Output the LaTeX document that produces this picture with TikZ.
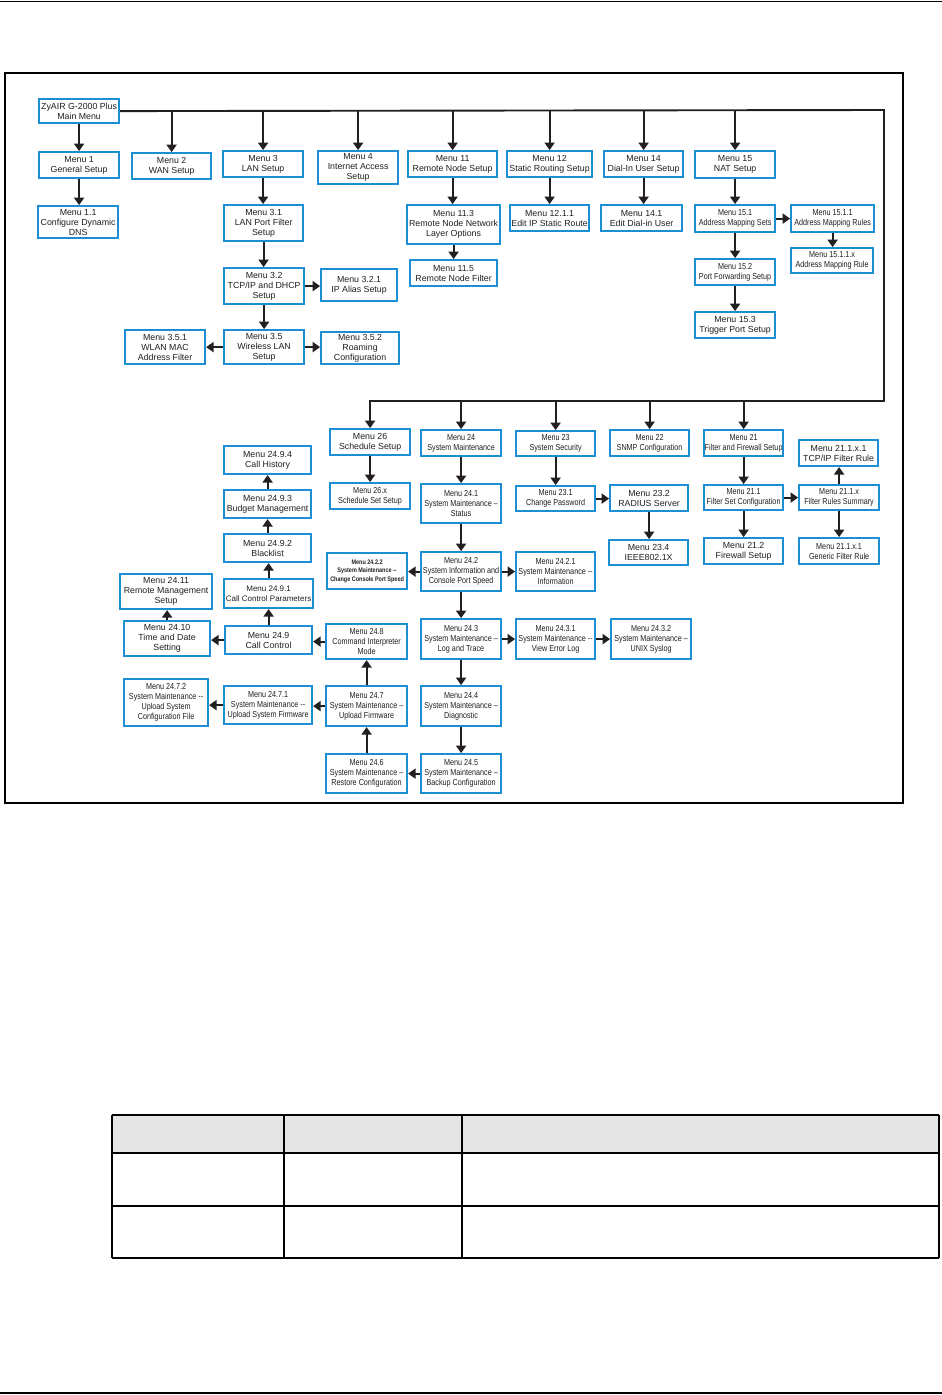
\documentclass[tikz,border=0pt]{standalone}
\usepackage{fontspec}
\setmainfont{Liberation Sans}
\newfontfamily\narrowfont[FakeStretch=0.83]{Liberation Sans}
\usetikzlibrary{arrows.meta}
\definecolor{boxblue}{RGB}{28,142,214}
\definecolor{ink}{RGB}{35,31,32}
\tikzset{
  box/.style={draw=boxblue, line width=2.2pt, fill=white, inner sep=0pt, align=center, text=ink},
  nf/.style={font=\fontsize{8.8}{10}\selectfont},
  cf/.style={font=\narrowfont\fontsize{8.7}{10}\selectfont},
  tf/.style={font=\narrowfont\fontsize{6.6}{8.7}\selectfont\bfseries},
  sf/.style={font=\fontsize{8}{10}\selectfont},
  conn/.style={draw=ink, line width=1.9pt},
  arr/.style={conn, -{Triangle[length=7.5pt,width=10pt]}}
}
\newcommand\mybox[7]{%
  \pgfmathsetmacro\bw{#4-#2-2.2}\pgfmathsetmacro\bh{#5-#3-2.2}%
  \pgfmathsetmacro\bx{#2+1.1}\pgfmathsetmacro\by{#3+1.1}%
  \node[box,#6,anchor=north west,minimum width=\bw pt,minimum height=\bh pt] (#1) at (\bx,\by) {#7};}
\begin{document}
\begin{tikzpicture}[x=1pt,y=-1pt]
\useasboundingbox (0,0) rectangle (942,1395);
% page rules
\draw[line width=1.4pt] (0,1.5) -- (942,1.5);
\draw[line width=1.4pt] (0,1393) -- (942,1393);
% frame
\draw[line width=1.6pt] (5,73) rectangle (903,803);
% top part
\mybox{main}{37}{97}{119}{123}{nf}{ZyAIR G-2000 Plus\\Main Menu}
\mybox{m1}{37}{150}{119}{178}{nf}{Menu 1\\General Setup}
\mybox{m1a}{36}{204}{118}{238}{nf}{Menu 1.1\\Configure Dynamic\\DNS}
\mybox{m2}{130}{151}{211}{179}{nf}{Menu 2\\WAN Setup}
\mybox{m3}{221}{149}{303}{177}{nf}{Menu 3\\LAN Setup}
\mybox{m31}{222}{203}{303}{241}{nf}{Menu 3.1\\LAN Port Filter\\Setup}
\mybox{m32}{222}{266}{304}{304}{nf}{Menu 3.2\\TCP/IP and DHCP\\Setup}
\mybox{m321}{319}{267}{397}{301}{nf}{Menu 3.2.1\\IP Alias Setup}
\mybox{m35}{222}{328}{304}{364}{nf}{Menu 3.5\\Wireless LAN\\Setup}
\mybox{m351}{123}{328}{205}{364}{nf}{Menu 3.5.1\\WLAN MAC\\Address Filter}
\mybox{m352}{319}{330}{399}{364}{nf}{Menu 3.5.2\\Roaming\\Configuration}
\mybox{m4}{316}{149}{398}{184}{nf}{Menu 4\\Internet Access\\Setup}
\mybox{mA}{406}{149}{497}{177}{nf}{Menu 11\\Remote Node Setup}
\mybox{mA3}{405}{203}{500}{244}{nf}{Menu 11.3\\Remote Node Network\\Layer Options}
\mybox{mA5}{408}{258}{497}{286}{nf}{Menu 11.5\\Remote Node Filter}
\mybox{mB}{505}{149}{592}{177}{nf}{Menu 12\\Static Routing Setup}
\mybox{mB1}{508}{203}{589}{231}{nf}{Menu 12.1.1\\Edit IP Static Route}
\mybox{mD}{602}{149}{683}{177}{nf}{Menu 14\\Dial-In User Setup}
\mybox{mD1}{599}{203}{682}{231}{nf}{Menu 14.1\\Edit Dial-in User}
\mybox{mE}{693}{149}{775}{178}{nf}{Menu 15\\NAT Setup}
\mybox{mE1}{693}{203}{775}{232}{cf}{Menu 15.1\\Address Mapping Sets}
\mybox{mE11}{789}{203}{874}{232}{cf}{Menu 15.1.1\\Address Mapping Rules}
\mybox{mE11x}{789}{246}{873}{273}{cf}{Menu 15.1.1.x\\Address Mapping Rule}
\mybox{mE2}{693}{257}{775}{285}{cf}{Menu 15.2\\Port Forwarding Setup}
\mybox{mE3}{693}{310}{775}{338}{nf}{Menu 15.3\\Trigger Port Setup}
% lower part
\mybox{mZ}{328}{427}{410}{455}{nf}{Menu 26\\Schedule Setup}
\mybox{mZx}{328}{481}{410}{509}{cf}{Menu 26.x\\Schedule Set Setup}
\mybox{mY}{419}{428}{501}{456}{cf}{Menu 24\\System Maintenance}
\mybox{mX}{514}{429}{595}{456}{cf}{Menu 23\\System Security}
\mybox{mW}{608}{428}{689}{456}{cf}{Menu 22\\SNMP Configuration}
\mybox{mV}{702}{428}{783}{456}{cf}{Menu 21\\Filter and Firewall Setup}
\mybox{mY1}{419}{482}{501}{523}{cf}{Menu 24.1\\System Maintenance –\\Status}
\mybox{mX1}{514}{484}{595}{511}{cf}{Menu 23.1\\Change Password}
\mybox{mX2}{608}{483}{688}{511}{nf}{Menu 23.2\\RADIUS Server}
\mybox{mX4}{607}{538}{688}{565}{nf}{Menu 23.4\\IEEE802.1X}
\mybox{mY2}{419}{550}{501}{591}{cf}{Menu 24.2\\System Information and\\Console Port Speed}
\mybox{mY21}{514}{550}{595}{591}{cf}{Menu 24.2.1\\System Maintenance -{}-\\Information}
\mybox{mY22}{325}{551}{407}{589}{tf}{Menu 24.2.2\\System Maintenance -{}-\\Change Console Port Speed}
\mybox{mV1}{702}{483}{783}{510}{cf}{Menu 21.1\\Filter Set Configuration}
\mybox{mV1x}{797}{483}{879}{510}{cf}{Menu 21.1.x\\Filter Rules Summary}
\mybox{mV1xt}{797}{438}{878}{466}{nf}{Menu 21.1.x.1\\TCP/IP Filter Rule}
\mybox{mV2}{702}{536}{783}{564}{nf}{Menu 21.2\\Firewall Setup}
\mybox{mV1xb}{797}{536}{879}{564}{cf}{Menu 21.1.x.1\\Generic Filter Rule}
\mybox{mY94}{222}{444}{311}{474}{nf}{Menu 24.9.4\\Call History}
\mybox{mY93}{222}{488}{311}{518}{nf}{Menu 24.9.3\\Budget Management}
\mybox{mY92}{222}{532}{311}{562}{nf}{Menu 24.9.2\\Blacklist}
\mybox{mY91}{222}{577}{313}{608}{sf}{Menu 24.9.1\\Call Control Parameters}
\mybox{mY11}{118}{572}{212}{609}{nf}{Menu 24.11\\Remote Management\\Setup}
\mybox{mY10}{122}{619}{210}{656}{nf}{Menu 24.10\\Time and Date\\Setting}
\mybox{mY9}{223}{624}{312}{654}{nf}{Menu 24.9\\Call Control}
\mybox{mY8}{324}{622}{407}{659}{cf}{Menu 24.8\\Command Interpreter\\Mode}
\mybox{mY72}{122}{677}{208}{726}{cf}{Menu 24.7.2\\System Maintenance -{}-\\Upload System\\Configuration File}
\mybox{mY71}{222}{684}{312}{724}{cf}{Menu 24.7.1\\System Maintenance -{}-\\Upload System Firmware}
\mybox{mY7}{324}{684}{407}{726}{cf}{Menu 24.7\\System Maintenance –\\Upload Firmware}
\mybox{mY6}{324}{752}{407}{793}{cf}{Menu 24.6\\System Maintenance –\\Restore Configuration}
\mybox{mY3}{419}{617}{501}{659}{cf}{Menu 24.3\\System Maintenance –\\Log and Trace}
\mybox{mY31}{514}{617}{595}{659}{cf}{Menu 24.3.1\\System Maintenance -{}-\\View Error Log}
\mybox{mY32}{609}{617}{691}{659}{cf}{Menu 24.3.2\\System Maintenance –\\UNIX Syslog}
\mybox{mY4}{419}{684}{501}{726}{cf}{Menu 24.4\\System Maintenance –\\Diagnostic}
\mybox{mY5}{419}{752}{501}{793}{cf}{Menu 24.5\\System Maintenance –\\Backup Configuration}
% bus
\coordinate (busR) at (884,110);
\coordinate (busBR) at (884,401);
\coordinate (busBL) at (369,401);
\draw[conn] (main.east) -- (busR) -- (busBR) -- (busBL);
\foreach \n in {m2,m3,m4,mA,mB,mD,mE}
  \draw[arr] (\n.north |- busR) -- (\n.north);
\foreach \n in {mZ,mY,mX,mW,mV}
  \draw[arr] (\n.north |- busBR) -- (\n.north);
% vertical links
\foreach \a/\b in {main/m1,m1/m1a,m3/m31,m31/m32,m32/m35,mA/mA3,mA3/mA5,mB/mB1,mD/mD1,mE/mE1,mE1/mE2,mE2/mE3,mE11/mE11x,
  mZ/mZx,mY/mY1,mY1/mY2,mY2/mY3,mY3/mY4,mY4/mY5,mX/mX1,mX2/mX4,mV/mV1,mV1/mV2,mV1x/mV1xb}
  \draw[arr] (\a.south) -- (\a.south |- \b.north);
\foreach \a/\b in {mY6/mY7,mY7/mY8,mY9/mY91,mY91/mY92,mY92/mY93,mY93/mY94,mY10/mY11,mV1x/mV1xt}
  \draw[arr] (\a.north) -- (\a.north |- \b.south);
% horizontal links
\foreach \a/\b in {m32/m321,m35/m352,mE1/mE11,mX1/mX2,mY2/mY21,mY3/mY31,mY31/mY32,mV1/mV1x}
  \draw[arr] (\a.east) -- (\a.east -| \b.west);
\foreach \a/\b in {m35/m351,mY2/mY22,mY5/mY6,mY7/mY71,mY71/mY72,mY8/mY9,mY9/mY10}
  \draw[arr] (\a.west) -- (\a.west -| \b.east);
% table
\fill[black!10] (112,1115) rectangle (939,1153);
\draw[line width=1.1pt] (112,1115) -- (939,1115) (112,1153) -- (939,1153)
  (112,1206) -- (939,1206) (112,1258) -- (939,1258);
\draw[line width=1.1pt] (112,1115) -- (112,1258) (284,1115) -- (284,1258)
  (462,1115) -- (462,1258) (939,1115) -- (939,1258);
\end{tikzpicture}
\end{document}
